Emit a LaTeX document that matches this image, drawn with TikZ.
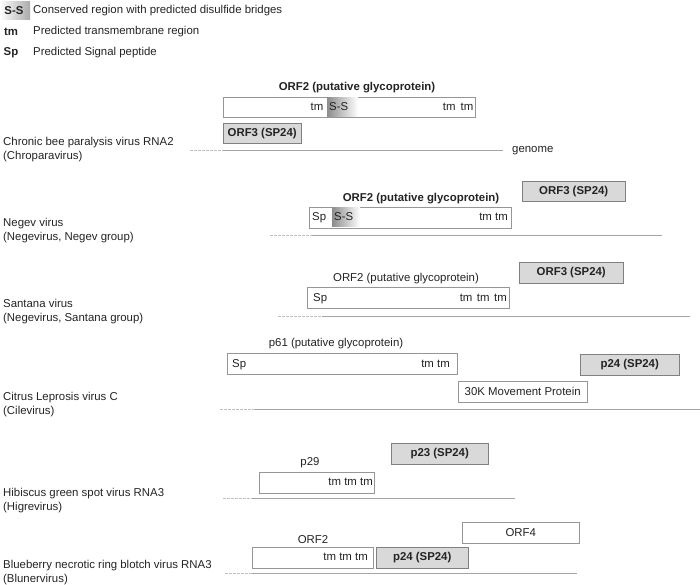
\documentclass[tikz,border=0pt]{standalone}
\usepackage{fontspec}
\setmainfont{Liberation Sans}
\usetikzlibrary{positioning}
\definecolor{boxline}{RGB}{150,150,150}
\definecolor{sfill}{RGB}{217,217,217}
\definecolor{sline}{RGB}{128,128,128}
\definecolor{genline}{RGB}{165,165,165}
\definecolor{ssgray}{RGB}{140,140,140}
\definecolor{legss}{RGB}{170,170,170}
\definecolor{txtgray}{RGB}{35,35,35}

\begin{document}
\begin{tikzpicture}[x=1pt,y=-1pt,font=\fontsize{11.4}{14}\selectfont,text=txtgray,
    orf/.style={draw=boxline,fill=white,anchor=north west,minimum height=20.5,inner sep=0pt},
    sbox/.style={orf,draw=sline,fill=sfill,font=\fontsize{11.4}{14}\selectfont\bfseries},
    intxt/.style={inner sep=0pt},
    ttl/.style={inner sep=0pt},
    species/.style={anchor=west,align=left,inner sep=0pt},
    gline/.style={genline,line width=0.9pt},
    gdash/.style={genline!70,line width=0.9pt,dash pattern=on 2.5pt off 1.5pt}]
  \useasboundingbox (0,0) rectangle (700,585);

  % legend
  \shade[left color=white,right color=legss] (0,2) rectangle (30,20);
  \node[intxt,font=\fontsize{11.4}{14}\selectfont\bfseries] (legss) at (14,11) {S-S};
  \node[intxt,anchor=west] (legsstxt) at (33,11) {Conserved region with predicted disulfide bridges};
  \node[intxt,font=\fontsize{11.4}{14}\selectfont\bfseries] (legtm) at (11,32) {tm};
  \node[intxt,anchor=west] (legtmtxt) at (33,32) {Predicted transmembrane region};
  \node[intxt,font=\fontsize{11.4}{14}\selectfont\bfseries] (legsp) at (11,53) {Sp};
  \node[intxt,anchor=west] (legsptxt) at (33,53) {Predicted Signal peptide};

  % Chronic bee paralysis virus RNA2
  \node[species] (cbpv) at (3,150) {Chronic bee paralysis virus RNA2\\(Chroparavirus)};
  \node[ttl,font=\fontsize{11.4}{14}\selectfont\bfseries] (cbpvttl) at (357,88) {ORF2 (putative glycoprotein)};
  \node[orf,minimum width=252] (cbpvorf2) at (223,97) {};
  \shade[left color=ssgray,right color=white] (327,97.5) rectangle (358,116.5);
  \node[intxt,anchor=base east] (cbpvtma) at (323.5,110.5) {tm};
  \node[intxt,anchor=base west] (cbpvss) at (329,110.5) {S-S};
  \node[intxt,anchor=base east] (cbpvtmb) at (473.5,110.5) {tm\hspace{5pt}tm};
  \node[sbox,minimum width=78] (cbpvorf3) at (223,123) {ORF3 (SP24)};
  \coordinate (cbpva) at (190,150);
  \coordinate (cbpvb) at (223,150);
  \coordinate (cbpvc) at (503,150);
  \draw[gdash] (cbpva) -- (cbpvb);
  \draw[gline] (cbpvb) -- (cbpvc);
  \node[intxt,anchor=west] (genome) at (512,151) {genome};

  % Negev virus
  \node[species] (negev) at (3,230.5) {Negev virus\\(Negevirus, Negev group)};
  \node[ttl,font=\fontsize{11.4}{14}\selectfont\bfseries] (negttl) at (421,199) {ORF2 (putative glycoprotein)};
  \node[orf,minimum width=202] (negorf2) at (309,207) {};
  \shade[left color=ssgray,right color=white] (332,207.5) rectangle (360,226.5);
  \node[intxt,anchor=base west] (negsp) at (312,220.5) {Sp};
  \node[intxt,anchor=base west] (negss) at (334,220.5) {S-S};
  \node[intxt,anchor=base east] (negtm) at (508,220.5) {tm tm};
  \node[sbox,minimum width=103] (negorf3) at (522,181) {ORF3 (SP24)};
  \coordinate (nega) at (270,235);
  \coordinate (negb) at (312,235);
  \coordinate (negc) at (662,235);
  \draw[gdash] (nega) -- (negb);
  \draw[gline] (negb) -- (negc);

  % Santana virus
  \node[species] (santana) at (3,312) {Santana virus\\(Negevirus, Santana group)};
  \node[ttl] (santtl) at (406,279) {ORF2 (putative glycoprotein)};
  \node[orf,minimum width=202] (sanorf2) at (307,287) {};
  \node[intxt,anchor=base west] (sansp) at (313,301) {Sp};
  \node[intxt,anchor=base east] (santm) at (507,301) {tm\hspace{4.5pt}tm\hspace{4.5pt}tm};
  \node[sbox,minimum width=104] (sanorf3) at (519,262) {ORF3 (SP24)};
  \coordinate (sana) at (278,316);
  \coordinate (sanb) at (322,316);
  \coordinate (sanc) at (690,316);
  \draw[gdash] (sana) -- (sanb);
  \draw[gline] (sanb) -- (sanc);

  % Citrus Leprosis virus C
  \node[species] (clv) at (3,405) {Citrus Leprosis virus C\\(Cilevirus)};
  \node[ttl] (clvttl) at (336,344) {p61 (putative glycoprotein)};
  \node[orf,minimum width=230] (clvp61) at (227,353) {};
  \node[intxt,anchor=base west] (clvsp) at (232,367) {Sp};
  \node[intxt,anchor=base east] (clvtm) at (450,367) {tm tm};
  \node[sbox,minimum width=99] (clvp24) at (580,354) {p24 (SP24)};
  \node[orf,minimum width=129] (clvmp) at (458,381) {30K Movement Protein};
  \coordinate (clva) at (220,409);
  \coordinate (clvb) at (255,409);
  \coordinate (clvc) at (700,409);
  \draw[gdash] (clva) -- (clvb);
  \draw[gline] (clvb) -- (clvc);

  % Hibiscus green spot virus RNA3
  \node[species] (hgsv) at (3,501) {Hibiscus green spot virus RNA3\\(Higrevirus)};
  \node[ttl] (hgsvttl) at (310,463) {p29};
  \node[orf,minimum width=115] (hgsvp29) at (259,472) {};
  \node[intxt,anchor=base east] (hgsvtm) at (373,485.5) {tm tm tm};
  \node[sbox,minimum width=97] (hgsvp23) at (391,443) {p23 (SP24)};
  \coordinate (hgsva) at (223,498);
  \coordinate (hgsvb) at (252,498);
  \coordinate (hgsvc) at (515,498);
  \draw[gdash] (hgsva) -- (hgsvb);
  \draw[gline] (hgsvb) -- (hgsvc);

  % Blueberry necrotic ring blotch virus RNA3
  \node[species] (bnrbv) at (3,572.5) {Blueberry necrotic ring blotch virus RNA3\\(Blunervirus)};
  \node[ttl] (bnrbvttl) at (313,540) {ORF2};
  \node[orf,minimum width=121] (bnrbvorf2) at (252,547) {};
  \node[intxt,anchor=base east] (bnrbvtm) at (368,560.5) {tm tm tm};
  \node[sbox,minimum width=92] (bnrbvp24) at (376,547) {p24 (SP24)};
  \node[orf,minimum width=117] (bnrbvorf4) at (462,522) {ORF4};
  \coordinate (bnrbva) at (225,573);
  \coordinate (bnrbvb) at (252,573);
  \coordinate (bnrbvc) at (577,573);
  \draw[gdash] (bnrbva) -- (bnrbvb);
  \draw[gline] (bnrbvb) -- (bnrbvc);
\end{tikzpicture}
\end{document}
